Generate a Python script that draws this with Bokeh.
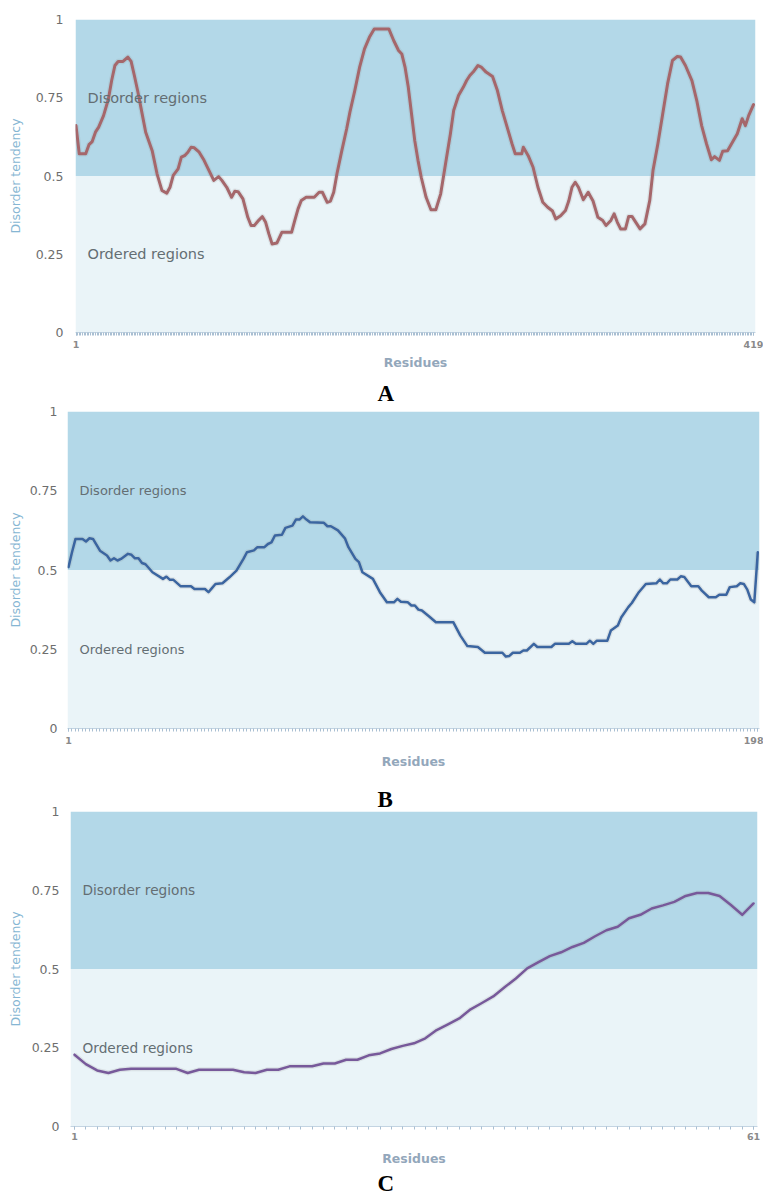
from bokeh.plotting import figure
from bokeh.models import BoxAnnotation, Label, FixedTicker, NumeralTickFormatter, Range1d, Title
from bokeh.embed import file_html
from bokeh.resources import INLINE

# ---------------- data ----------------
A_res = [1, 3, 7, 9, 11, 13, 15, 18, 21, 23, 25, 27, 30, 33, 35, 37, 39, 41, 44, 48,
         51, 54, 57, 59, 61, 64, 66, 68, 70, 72, 74, 77, 80, 83, 86, 89, 91, 94, 97, 99,
         101, 104, 107, 109, 111, 114, 116, 118, 120, 122, 125, 128, 134, 136, 138, 140, 143, 148, 151, 153,
         156, 158, 160, 162, 165, 168, 170, 173, 176, 179, 182, 185, 194, 197, 200, 202, 204, 206, 208, 210,
         212, 214, 217, 220, 223, 226, 229, 232, 234, 237, 240, 242, 244, 246, 249, 251, 254, 258, 261, 264,
         267, 270, 272, 276, 277, 280, 283, 286, 289, 292, 295, 297, 300, 303, 305, 307, 309, 311, 314, 317,
         320, 323, 326, 328, 331, 333, 335, 337, 340, 342, 344, 347, 349, 352, 355, 357, 360, 363, 366, 369,
         372, 374, 377, 381, 384, 387, 390, 393, 395, 398, 400, 403, 406, 409, 412, 414, 416, 419]
A_val = [0.661, 0.571, 0.571, 0.600, 0.610, 0.640, 0.656, 0.693, 0.746, 0.805, 0.853, 0.866, 0.866, 0.880, 0.866, 0.821, 0.773, 0.720, 0.640, 0.581,
         0.507, 0.454, 0.445, 0.464, 0.502, 0.523, 0.560, 0.565, 0.576, 0.592, 0.590, 0.576, 0.550, 0.518, 0.486, 0.498, 0.486, 0.464, 0.432, 0.451,
         0.450, 0.427, 0.368, 0.342, 0.342, 0.360, 0.370, 0.352, 0.315, 0.283, 0.286, 0.320, 0.320, 0.358, 0.395, 0.422, 0.432, 0.432, 0.448, 0.448,
         0.416, 0.420, 0.448, 0.507, 0.581, 0.651, 0.704, 0.773, 0.848, 0.906, 0.943, 0.970, 0.970, 0.933, 0.901, 0.890, 0.848, 0.784, 0.699, 0.613,
         0.550, 0.496, 0.432, 0.392, 0.392, 0.443, 0.539, 0.635, 0.709, 0.757, 0.784, 0.805, 0.821, 0.832, 0.853, 0.848, 0.832, 0.818, 0.773, 0.709,
         0.656, 0.603, 0.571, 0.571, 0.592, 0.565, 0.528, 0.464, 0.416, 0.400, 0.388, 0.363, 0.373, 0.390, 0.420, 0.464, 0.480, 0.464, 0.424, 0.448,
         0.420, 0.368, 0.358, 0.342, 0.358, 0.379, 0.352, 0.331, 0.331, 0.371, 0.371, 0.347, 0.331, 0.347, 0.422, 0.518, 0.603, 0.699, 0.795, 0.869,
         0.882, 0.880, 0.853, 0.805, 0.741, 0.661, 0.603, 0.552, 0.562, 0.550, 0.579, 0.581, 0.608, 0.635, 0.683, 0.661, 0.693, 0.728]

B_res = [1, 2, 3, 5, 6, 7, 8, 10, 12, 13, 14, 15, 16, 18, 19, 20, 21, 22, 23, 25,
         28, 29, 30, 31, 33, 36, 37, 40, 41, 42, 43, 45, 47, 49, 51, 52, 54, 55, 57, 58,
         59, 60, 62, 63, 65, 66, 67, 68, 69, 70, 74, 75, 76, 78, 80, 81, 83, 84, 85, 88,
         90, 92, 94, 95, 96, 98, 99, 100, 101, 102, 104, 106, 111, 113, 115, 118, 120, 125, 126, 127,
         128, 130, 131, 132, 134, 135, 139, 140, 144, 145, 146, 149, 150, 151, 152, 155, 156, 158, 159, 161,
         162, 164, 166, 169, 170, 171, 172, 173, 175, 176, 177, 179, 181, 182, 184, 186, 187, 189, 190, 192,
         193, 194, 195, 196, 197, 198]
B_val = [0.509, 0.556, 0.598, 0.598, 0.590, 0.600, 0.598, 0.561, 0.546, 0.530, 0.537, 0.530, 0.535, 0.551, 0.548, 0.537, 0.537, 0.522, 0.518, 0.493,
         0.472, 0.479, 0.469, 0.469, 0.449, 0.449, 0.440, 0.440, 0.430, 0.443, 0.456, 0.458, 0.477, 0.498, 0.535, 0.556, 0.562, 0.572, 0.572, 0.582,
         0.587, 0.609, 0.611, 0.633, 0.640, 0.659, 0.659, 0.669, 0.659, 0.651, 0.649, 0.638, 0.638, 0.625, 0.600, 0.572, 0.535, 0.525, 0.493, 0.472,
         0.430, 0.398, 0.398, 0.409, 0.400, 0.398, 0.388, 0.388, 0.375, 0.372, 0.354, 0.335, 0.335, 0.293, 0.260, 0.257, 0.239, 0.239, 0.227, 0.229,
         0.239, 0.239, 0.246, 0.246, 0.267, 0.257, 0.257, 0.267, 0.267, 0.275, 0.267, 0.267, 0.277, 0.267, 0.277, 0.277, 0.309, 0.325, 0.351, 0.383,
         0.396, 0.430, 0.456, 0.458, 0.470, 0.458, 0.458, 0.470, 0.470, 0.480, 0.478, 0.449, 0.449, 0.435, 0.414, 0.414, 0.422, 0.422, 0.446, 0.449,
         0.458, 0.456, 0.438, 0.407, 0.398, 0.556]

C_res = list(range(1, 62))
C_val = [0.228, 0.198, 0.178, 0.170, 0.180, 0.183, 0.183, 0.183, 0.183, 0.183,
         0.170, 0.180, 0.180, 0.180, 0.180, 0.172, 0.170, 0.180, 0.180, 0.191,
         0.191, 0.191, 0.200, 0.200, 0.212, 0.212, 0.226, 0.232, 0.246, 0.256,
         0.264, 0.280, 0.306, 0.324, 0.343, 0.372, 0.392, 0.413, 0.442, 0.470,
         0.502, 0.522, 0.541, 0.553, 0.570, 0.583, 0.604, 0.623, 0.634, 0.661,
         0.672, 0.692, 0.702, 0.713, 0.732, 0.741, 0.741, 0.732, 0.703, 0.672, 0.708]

Y_TICKS = [0, 0.25, 0.5, 0.75, 1]
THRESHOLD = 0.5
REGION_LABELS = ["Disorder regions", "Ordered regions"]
REGION_LABEL_Y = [0.75, 0.25]
Y_LABEL = "Disorder tendency"
X_LABEL = "Residues"
PANEL_LETTERS = ["A", "B", "C"]

# ---------------- styling ----------------
FONT = "DejaVu Sans"
DIS_COLOR = "#b3d8e8"
ORD_COLOR = "#eaf4f8"
W = 763


def letter_title(text, offset, standoff):
    return Title(text=text, align="left", offset=offset, standoff=standoff,
                 text_font="Liberation Serif", text_font_style="bold",
                 text_font_size="23px", text_color="black")


def panel(res, vals, color, height, borders, xr, region_fs,
          ylab_standoff, ytick_standoff, xtick_standoff, xlab_standoff, lw, titles):
    left, right, top, bottom = borders
    n = res[-1]
    p = figure(width=W, height=height, output_backend="svg", toolbar_location=None,
               x_range=Range1d(*xr), y_range=Range1d(0, 1),
               min_border_left=left, min_border_right=right,
               min_border_top=top, min_border_bottom=bottom,
               background_fill_color="white", border_fill_color="white")
    p.outline_line_color = None
    p.grid.visible = False

    p.add_layout(BoxAnnotation(bottom=0, top=THRESHOLD, fill_color=ORD_COLOR, fill_alpha=1,
                               line_color=None, level="underlay"))
    p.add_layout(BoxAnnotation(bottom=THRESHOLD, top=1, fill_color=DIS_COLOR, fill_alpha=1,
                               line_color=None, level="underlay"))

    # soft shadow + line
    p.line(res, vals, line_color="#8a8a8a", line_alpha=0.16, line_width=lw + 2.5,
           line_join="round")
    p.line(res, vals, line_color=color, line_width=lw, line_join="round", line_cap="round")

    for txt, yy in zip(REGION_LABELS, REGION_LABEL_Y):
        p.add_layout(Label(x=12, x_units="screen", y=yy, text=txt, text_baseline="middle",
                           text_font=FONT, text_font_size=region_fs, text_color="#646e73"))

    # y axis
    ya = p.yaxis[0]
    ya.ticker = FixedTicker(ticks=Y_TICKS, minor_ticks=[])
    ya.formatter = NumeralTickFormatter(format="0.[00]")
    ya.axis_line_color = None
    ya.major_tick_line_color = None
    ya.major_tick_out = 0
    ya.major_tick_in = 0
    ya.minor_tick_line_color = None
    ya.major_label_standoff = ytick_standoff
    ya.major_label_text_font = FONT
    ya.major_label_text_font_size = "12.5px"
    ya.major_label_text_color = "#6e6e6e"
    ya.axis_label = Y_LABEL
    ya.axis_label_text_font = FONT
    ya.axis_label_text_font_style = "normal"
    ya.axis_label_text_font_size = "12.5px"
    ya.axis_label_text_color = "#86b6d3"
    ya.axis_label_standoff = ylab_standoff

    # x axis
    xa = p.xaxis[0]
    xa.ticker = FixedTicker(ticks=[1, n], minor_ticks=list(range(1, n + 1)))
    xa.axis_line_color = "#c3d4e2"
    xa.axis_line_width = 1
    xa.major_tick_line_color = "#a9bfd2"
    xa.minor_tick_line_color = "#a9bfd2"
    xa.major_tick_out = 3
    xa.major_tick_in = 0
    xa.minor_tick_out = 3
    xa.minor_tick_in = 0
    xa.major_label_standoff = xtick_standoff
    xa.major_label_text_font = FONT
    xa.major_label_text_font_size = "9.5px"
    xa.major_label_text_font_style = "bold"
    xa.major_label_text_color = "#8a8a8a"
    xa.axis_label = X_LABEL
    xa.axis_label_text_font = FONT
    xa.axis_label_text_font_style = "bold"
    xa.axis_label_text_font_size = "12.5px"
    xa.axis_label_text_color = "#93a7bb"
    xa.axis_label_standoff = xlab_standoff

    for t, loc in titles:
        p.add_layout(t, loc)
    return p


# figure A: y 0..373 ; figure B: 373..784 (carries letter "A" above) ;
# figure C: 784..1195 (carries letter "B" above and "C" below)
pA = panel(A_res, A_val, "#a5676b", 373, (75, 8, 19, 41),
           (0.69, 420.23), "14.5px", 10, 12, 5, 4, 3, [])
pB = panel(B_res, B_val, "#3b65a0", 411, (67, 4, 38, 56),
           (0.714, 198.49), "13px", 4, 10, 5, 7, 2.5,
           [(letter_title(PANEL_LETTERS[0], 310, 11), "above")])
pC = panel(C_res, C_val, "#77599a", 411, (70, 6, 27, 68),
           (0.647, 61.35), "13.7px", 6, 11, 3, 8, 2.5,
           [(letter_title(PANEL_LETTERS[1], 307, 0), "above"),
            (letter_title(PANEL_LETTERS[2], 307, 0), "below")])

open("out.html", "w").write(file_html([pA, pB, pC], INLINE))
